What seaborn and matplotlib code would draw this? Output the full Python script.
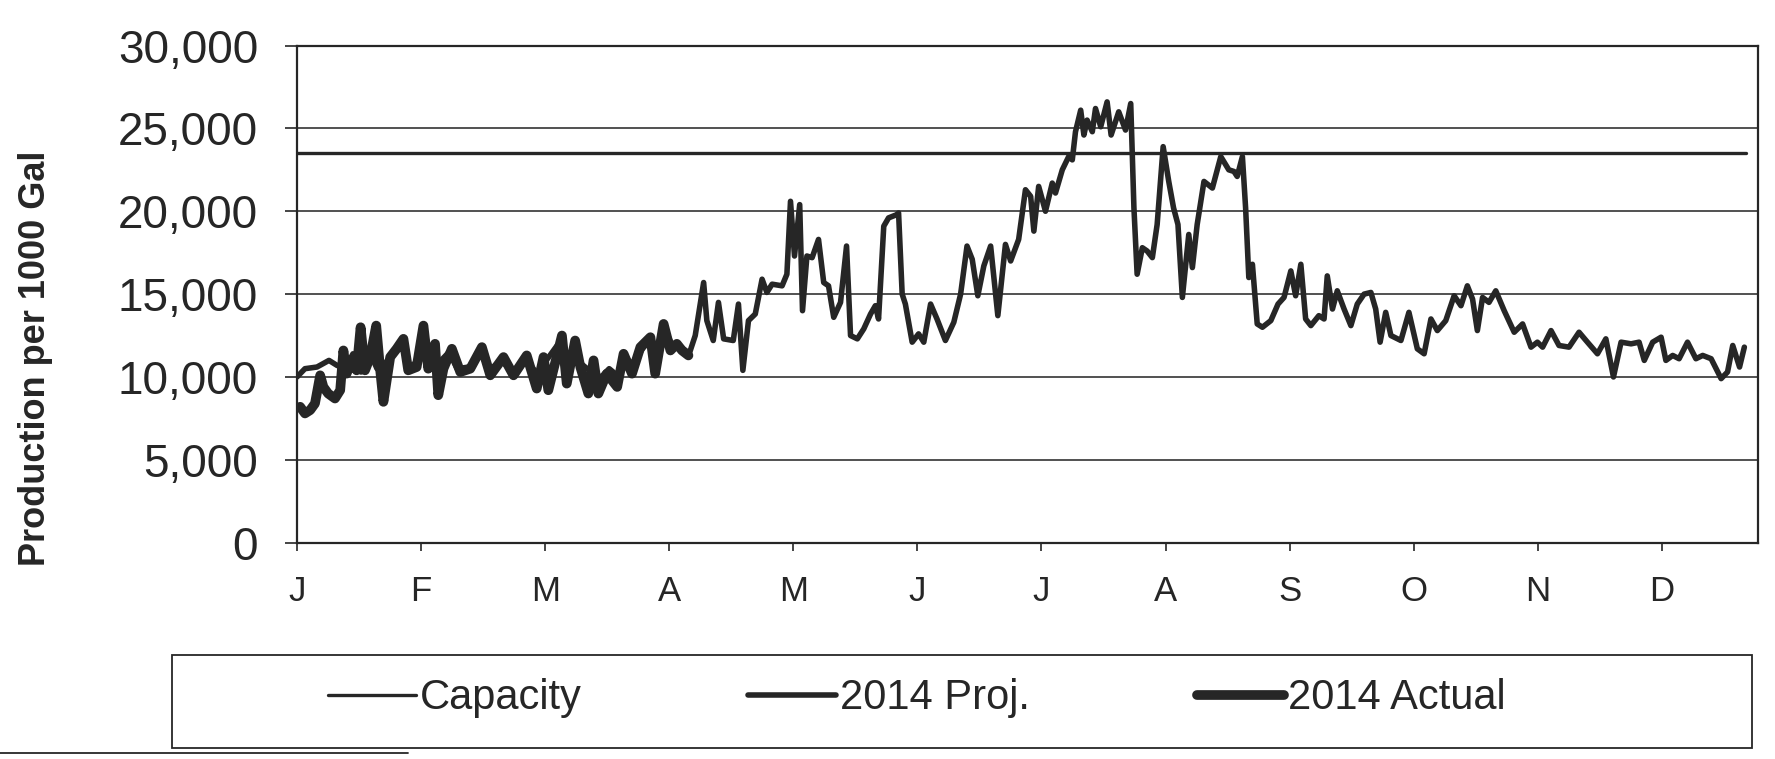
import numpy as np
import pandas as pd
import matplotlib
matplotlib.use("Agg")
import matplotlib.pyplot as plt
import seaborn as sns
from matplotlib.patches import Rectangle
from matplotlib.lines import Line2D

# month labels, one every 31 days on a 365 day axis
months = ["J", "F", "M", "A", "M", "J", "J", "A", "S", "O", "N", "D"]
month_days = [0, 31, 62, 93, 124, 155, 186, 217, 248, 279, 310, 341]

# Capacity (flat line)
cap_days = [0, 362]
cap_vals = [23500, 23500]

# 2014 Proj.
proj_days = [0, 2, 5, 8, 10, 12, 14, 16, 18, 20, 22, 24, 26, 28, 30, 32, 34, 36, 38, 40,
             43, 46, 48, 51, 54, 57, 60, 62, 65, 67, 69, 71, 74, 76, 78, 80, 82, 84, 86, 88,
             90, 92, 94, 96, 98, 99.5, 101.6, 102.4, 104, 105.3, 106.6, 109, 110.3, 111.4,
             112.8, 114.5, 116.2, 117.4, 118.7, 121.2, 122.4, 123.3, 124.3, 125.6, 126.3,
             127.4, 128.7, 130.3, 131.6, 132.8, 134.1, 135.8, 137.3, 138.3, 140, 141.6,
             143.3, 144.5, 145.3, 146.6, 147.8, 149.9, 150.3, 151.2, 152, 153.7, 155.3,
             156.6, 158.3, 159.9, 162, 164.1, 165.8, 167.4, 168.7, 170.1, 171.6, 173.3,
             175.1, 177, 178.3, 180.3, 182, 183.3, 184.1, 185.3, 187, 188.7, 189.5, 191.2,
             192.8, 193.7, 194.5, 195.8, 196.6, 197.4, 198.7, 199.5, 200.8, 202.4, 203.4,
             205.3, 207, 208.3, 209.1, 209.9, 211.2, 212.4, 213.7, 214.9, 216.4, 217.8,
             219, 220.1, 221.2, 222.8, 223.7, 224.9, 226.6, 228.7, 230.8, 232.8, 234.1,
             234.9, 236.2, 237, 237.8, 238.7, 239.9, 241.2, 243.3, 245.1, 246.6, 248.3,
             249.5, 250.8, 252, 253.3, 255.3, 256.6, 257.4, 258.7, 259.9, 261.6, 263.3,
             264.9, 266.6, 268.3, 269.5, 270.6, 272, 273.3, 275.8, 277.8, 279.9, 281.6,
             283.3, 284.9, 287, 289.1, 290.8, 292.4, 293.7, 294.9, 296.2, 297.8, 299.5,
             301.6, 304.1, 306.2, 308.3, 309.9, 311.2, 313.3, 315.3, 317.8, 320.3, 322.4,
             324.9, 327, 328.9, 330.8, 333.3, 335.3, 336.6, 338.7, 340.8, 342, 343.7,
             345.3, 347.4, 349.5, 351.2, 353.3, 355.8, 357.4, 358.7, 360.4, 361.6]
proj_vals = [10000, 10500, 10600, 11000, 10700, 10500, 11400, 10300, 11600, 10500, 10800,
             11500, 12000, 10600, 10900, 12600, 10700, 11000, 11500, 10500, 10600, 11400,
             10400, 11000, 10300, 11100, 10200, 10900, 11900, 10400, 11800, 10800, 10200,
             10000, 10500, 10100, 11200, 10700, 11600, 12200, 11000, 12800, 11800, 11800,
             11400, 12500, 15700, 13400, 12200, 14500, 12300, 12200, 14400, 10400, 13400,
             13800, 15900, 15100, 15600, 15500, 16200, 20600, 17300, 20400, 14000, 17300,
             17200, 18300, 15700, 15500, 13600, 14500, 17900, 12500, 12300, 12900, 13800,
             14300, 13500, 19100, 19600, 19800, 19900, 15000, 14400, 12100, 12600, 12100,
             14400, 13500, 12200, 13300, 15000, 17900, 17100, 14900, 16700, 17900, 13700,
             18000, 17000, 18300, 21300, 20900, 18800, 21500, 20000, 21700, 21100, 22500,
             23300, 23100, 24800, 26100, 24600, 25500, 24800, 26200, 25100, 26600, 24600,
             26000, 24900, 26500, 20200, 16200, 17800, 17600, 17200, 19200, 23900, 21800,
             20200, 19200, 14800, 18600, 16600, 19200, 21800, 21400, 23300, 22500, 22400,
             22100, 23300, 20200, 16000, 16800, 13200, 13000, 13400, 14400, 14800, 16400,
             14900, 16800, 13500, 13100, 13700, 13500, 16100, 14100, 15200, 14100, 13100,
             14400, 15000, 15100, 14100, 12100, 13900, 12500, 12200, 13900, 11700, 11400,
             13500, 12800, 13400, 14900, 14300, 15500, 14700, 12800, 14800, 14500, 15200,
             14000, 12700, 13200, 11800, 12100, 11800, 12800, 11900, 11800, 12700, 12100,
             11400, 12300, 10000, 12100, 12000, 12100, 11000, 12100, 12400, 11000, 11300,
             11100, 12100, 11100, 11300, 11100, 9900, 10300, 11900, 10600, 11800]

# 2014 Actual - only Jan to early April
act_days = [0.8, 2, 3.3, 4.5, 5.8, 6.6, 7.8, 9.5, 10.8, 11.6, 12.4, 13.7, 14.9, 15.9, 17,
            18.3, 19.8, 20.8, 21.6, 23.3, 24.9, 26.6, 27.8, 29.9, 31.6, 32.8, 34.5, 35.3,
            36.6, 38.7, 40.8, 43.3, 46.2, 48.3, 51.6, 54.1, 57.4, 59.9, 61.6, 62.8, 66.2,
            67.4, 69.5, 70.8, 72.8, 74.1, 75.3, 77.4, 80, 81.6, 83.7, 85.8, 88.3, 89.5,
            91.6, 93.3, 94.9, 96.2, 97.8]
act_vals = [8200, 7800, 8000, 8400, 10100, 9400, 9000, 8700, 9200, 11600, 10200, 11000,
            10400, 13000, 10400, 11200, 13100, 10400, 8500, 11200, 11700, 12300, 10400,
            10600, 13100, 10500, 12000, 8900, 10500, 11700, 10300, 10500, 11800, 10100,
            11200, 10100, 11300, 9300, 11200, 9200, 12500, 9600, 12200, 10600, 9000, 11000,
            9000, 10200, 9400, 11400, 10200, 11800, 12400, 10200, 13200, 11600, 12000,
            11600, 11300]

ink = "#262626"

sns.set_theme(style="white")
plt.rcParams["font.family"] = ["Liberation Sans", "DejaVu Sans"]

fig = plt.figure(figsize=(17.75, 7.59), dpi=100)
ax = fig.add_axes([0.1673, 0.285, 0.8231, 0.655])

sns.lineplot(x=cap_days, y=cap_vals, ax=ax, color=ink, linewidth=2.4,
             estimator=None, label="Capacity")
sns.lineplot(x=proj_days, y=proj_vals, ax=ax, color=ink, linewidth=4.0,
             estimator=None, label="2014 Proj.")
sns.lineplot(x=act_days, y=act_vals, ax=ax, color=ink, linewidth=7.0,
             estimator=None, label="2014 Actual")

ax.set_xlim(0, 365)
ax.set_ylim(0, 30000)
ax.set_xticks(month_days)
ax.set_xticklabels(months)
ax.set_yticks(np.arange(0, 30001, 5000))
ax.set_yticklabels(["{:,}".format(v) for v in range(0, 30001, 5000)])
ax.yaxis.grid(True, color="#333333", linewidth=1.2)
ax.xaxis.grid(False)
for s in ax.spines.values():
    s.set_visible(True)
    s.set_color(ink)
    s.set_linewidth(1.6)

ax.tick_params(axis="y", direction="out", length=9, width=1.2, color=ink,
               labelsize=33, labelcolor=ink, pad=19, left=True)
ax.tick_params(axis="x", direction="out", length=6, width=1.2, color=ink,
               labelsize=25, labelcolor=ink, pad=17, bottom=True)
ax.set_xlabel("")
ax.set_ylabel("Production per 1000 Gal", fontsize=26, fontweight="bold", color=ink)
ax.yaxis.set_label_coords(-0.167, 0.37)

handles, labels = ax.get_legend_handles_labels()
ax.get_legend().remove()
fig.legend(handles, labels, loc="center", bbox_to_anchor=(0.5166, 0.08), ncol=3,
           frameon=False, fontsize=30, handlelength=2.1, handletextpad=0.1,
           columnspacing=4.0, labelcolor=ink)

# box around the legend and the scan edge line below it
fig.add_artist(Rectangle((0.097, 0.0145), 0.890, 0.1225, transform=fig.transFigure,
                         fill=False, edgecolor=ink, linewidth=1.3))
fig.add_artist(Line2D([0.0, 0.23], [0.008, 0.008], transform=fig.transFigure,
                      color=ink, linewidth=1.3))

fig.savefig("out.png", dpi=100)
